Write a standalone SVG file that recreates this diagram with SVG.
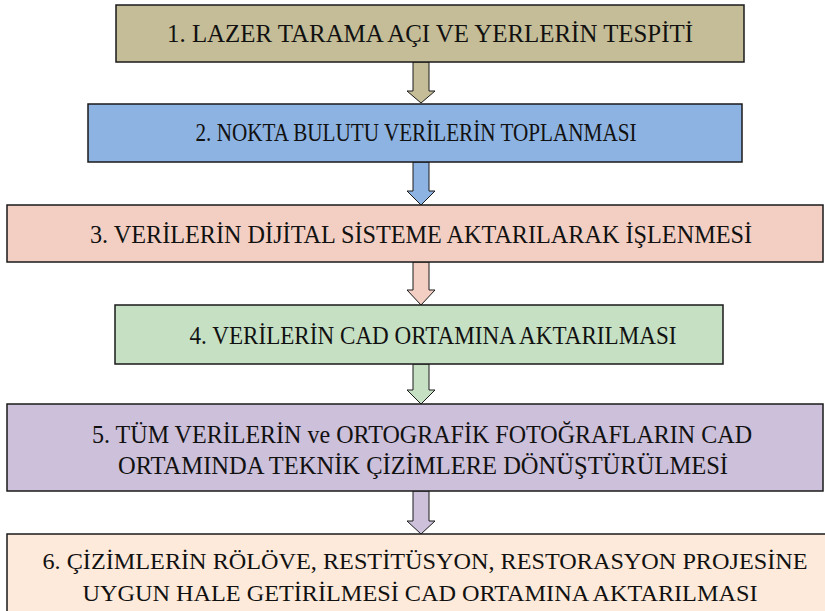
<svg xmlns="http://www.w3.org/2000/svg" width="825" height="611" viewBox="0 0 825 611">
<style>
.box{stroke:#1a1a1a;stroke-width:1.5}
.edge{fill:none;stroke:#1a1a1a;stroke-width:1.5}
.arr{stroke:#1a1a1a;stroke-width:1;stroke-linejoin:miter}
text{font-family:"Liberation Serif","Times New Roman",serif;font-size:26px;fill:#111;text-anchor:middle}
.sm{font-size:24px}
</style>
<rect width="825" height="611" fill="#fff"/>
<g id="connectors">
<path class="arr" fill="#c4bd97" d="M413,62 V91 H407 L421,103 L435,91 H429 V62 Z"/>
<path class="arr" fill="#8db3e2" d="M413,162 V191 H407 L421,205 L435,191 H429 V162 Z"/>
<path class="arr" fill="#f3cfc3" d="M413,262 V290 H407 L421,305 L435,290 H429 V262 Z"/>
<path class="arr" fill="#c6e0c4" d="M413,364 V390 H407 L421,404 L435,390 H429 V364 Z"/>
<path class="arr" fill="#ccc0da" d="M413,491 V521 H407 L421,534 L435,521 H429 V491 Z"/>
</g>
<g id="node1">
<rect class="box" x="116" y="5" width="628" height="57" fill="#c4bd97"/>
<text x="430" y="42" textLength="526" lengthAdjust="spacingAndGlyphs">1. LAZER TARAMA AÇI VE YERLERİN TESPİTİ</text>
</g>
<g id="node2">
<rect class="box" x="88" y="104" width="654" height="58" fill="#8db3e2"/>
<text x="416" y="141" textLength="441" lengthAdjust="spacingAndGlyphs">2. NOKTA BULUTU VERİLERİN TOPLANMASI</text>
</g>
<g id="node3">
<rect class="box" x="7" y="205" width="816" height="57" fill="#f3cfc3"/>
<text x="421" y="243" textLength="662" lengthAdjust="spacingAndGlyphs">3. VERİLERİN DİJİTAL SİSTEME AKTARILARAK İŞLENMESİ</text>
</g>
<g id="node4">
<rect class="box" x="115" y="305" width="608" height="59" fill="#c6e0c4"/>
<text x="433" y="344" textLength="487" lengthAdjust="spacingAndGlyphs">4. VERİLERİN CAD ORTAMINA AKTARILMASI</text>
</g>
<g id="node5">
<rect class="box" x="7" y="404" width="816" height="87" fill="#ccc0da"/>
<text x="422" y="443" textLength="660" lengthAdjust="spacingAndGlyphs">5. TÜM VERİLERİN ve ORTOGRAFİK FOTOĞRAFLARIN CAD</text>
<text x="423" y="474" textLength="610" lengthAdjust="spacingAndGlyphs">ORTAMINDA TEKNİK ÇİZİMLERE DÖNÜŞTÜRÜLMESİ</text>
</g>
<g id="node6">
<rect x="7" y="534" width="818" height="77" fill="#fdeada"/>
<path class="edge" d="M7,611 V534 H825"/>
<text class="sm" x="425" y="569" textLength="765" lengthAdjust="spacingAndGlyphs">6. ÇİZİMLERİN RÖLÖVE, RESTİTÜSYON, RESTORASYON PROJESİNE</text>
<text class="sm" x="420" y="601" textLength="675" lengthAdjust="spacingAndGlyphs">UYGUN HALE GETİRİLMESİ CAD ORTAMINA AKTARILMASI</text>
</g>
</svg>
